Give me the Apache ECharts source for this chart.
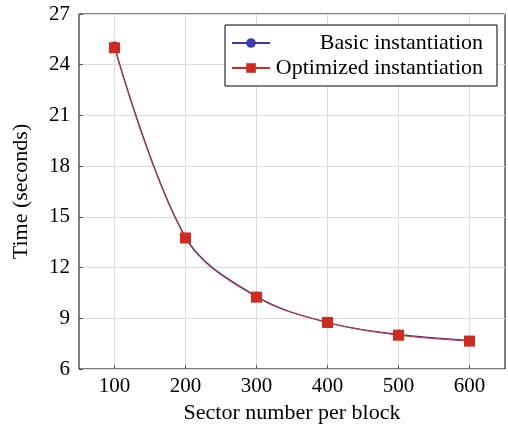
<!DOCTYPE html>
<html>
<head>
<meta charset="utf-8">
<script src="https://cdn.jsdelivr.net/npm/echarts@6/dist/echarts.min.js"></script>
<style>
  html, body { margin: 0; padding: 0; background: #fff; }
  #chart { width: 508px; height: 425px; }
</style>
</head>
<body>
<div id="chart"></div>
<script>
// 数据
const sectors = [100, 200, 300, 400, 500, 600];
const basicTime = [25.1, 13.8, 10.3, 8.75, 8.05, 7.7];
const optimizedTime = [25.0, 13.75, 10.25, 8.75, 8.0, 7.65];
const yTicks = [6, 9, 12, 15, 18, 21, 24, 27];

const serif = 'Liberation Serif';
const blue = '#3a3aae';
const red = '#d12a1f';

function pairs(xs, ys) {
    return xs.map((x, i) => [x, ys[i]]);
}

const chart = echarts.init(document.getElementById('chart'));

chart.setOption({
    animation: false,
    backgroundColor: '#fff',
    grid: {
        left: 79, right: 3, top: 14, bottom: 56,
        outerBoundsMode: 'none',
        containLabel: false,
        show: true,
        borderColor: '#000',
        borderWidth: 1,
        backgroundColor: 'transparent'
    },
    legend: {
        right: 11,
        top: 25,
        orient: 'vertical',
        backgroundColor: '#fff',
        borderColor: '#000',
        borderWidth: 1,
        borderRadius: 0,
        padding: [7, 14, 7, 6],
        itemGap: 3,
        itemWidth: 38,
        itemHeight: 12,
        formatter: name => '{t|' + name + '}',
        textStyle: {
            fontFamily: serif, fontSize: 22, color: '#000',
            rich: {
                t: { fontFamily: serif, fontSize: 22, color: '#000', width: 208, align: 'right' }
            }
        },
        data: ['Basic instantiation', 'Optimized instantiation']
    },
    xAxis: {
        type: 'value',
        min: 50,
        max: 650,
        name: 'Sector number per block',
        nameLocation: 'middle',
        nameGap: 29,
        nameTextStyle: { fontFamily: serif, fontSize: 22, color: '#000' },
        axisLine: { show: false },
        axisTick: {
            show: true, inside: true, length: 4,
            customValues: sectors,
            lineStyle: { color: '#555' }
        },
        axisLabel: {
            customValues: sectors,
            fontFamily: serif, fontSize: 21, color: '#000', margin: 7
        },
        splitLine: { show: true, lineStyle: { color: '#dcdcdc', width: 1 } }
    },
    yAxis: {
        type: 'value',
        min: 6,
        max: 27,
        interval: 3,
        name: 'Time (seconds)',
        nameLocation: 'middle',
        nameGap: 47,
        nameTextStyle: { fontFamily: serif, fontSize: 22, color: '#000' },
        axisLine: { show: false },
        axisTick: { show: true, inside: true, length: 4, lineStyle: { color: '#555' } },
        axisLabel: {
            fontFamily: serif, fontSize: 21, color: '#000', margin: 9,
            formatter: v => (yTicks.indexOf(v) >= 0 ? String(v) : '')
        },
        splitLine: { show: true, lineStyle: { color: '#dcdcdc', width: 1 } }
    },
    series: [
        {
            name: 'Basic instantiation',
            type: 'line',
            smooth: 0.35,
            data: pairs(sectors, basicTime),
            symbol: 'circle',
            symbolSize: 9,
            itemStyle: { color: blue },
            lineStyle: { color: blue, width: 1.2 }
        },
        {
            name: 'Optimized instantiation',
            type: 'line',
            smooth: 0.35,
            data: pairs(sectors, optimizedTime),
            symbol: 'rect',
            symbolSize: 11,
            itemStyle: { color: red },
            lineStyle: { color: red, width: 1 }
        }
    ]
});
</script>
</body>
</html>
